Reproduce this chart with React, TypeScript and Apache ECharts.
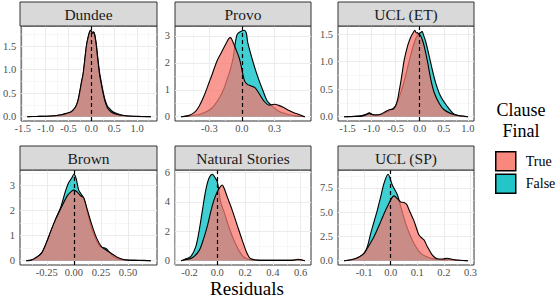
import React, { useEffect, useRef } from "react";
import * as echarts from "echarts";

// ---------- data ----------
const panelNames = ["Dundee", "Provo", "UCL (ET)", "Brown", "Natural Stories", "UCL (SP)"];
const groupNames = ["True", "False"];

const dundeeTrue = [[-1.4,0],[-1.2,0.005],[-1.0,0.01],[-0.8,0.02],[-0.65,0.04],[-0.55,0.07],[-0.45,0.1],[-0.4,0.14],[-0.35,0.2],[-0.3,0.32],[-0.26,0.5],[-0.22,0.72],[-0.18,0.92],[-0.14,1.25],[-0.11,1.5],[-0.07,1.7],[-0.03,1.83],[-0.01,1.84],[0.02,1.78],[0.05,1.79],[0.08,1.7],[0.11,1.5],[0.14,1.22],[0.18,0.9],[0.22,0.68],[0.26,0.48],[0.3,0.32],[0.35,0.19],[0.4,0.13],[0.45,0.09],[0.55,0.05],[0.7,0.025],[0.9,0.01],[1.1,0.005],[1.3,0]];
const dundeeFalse = [[-1.4,0],[-1.2,0.005],[-1.0,0.01],[-0.8,0.02],[-0.65,0.04],[-0.55,0.065],[-0.45,0.1],[-0.4,0.14],[-0.35,0.2],[-0.3,0.31],[-0.26,0.48],[-0.22,0.7],[-0.18,0.9],[-0.14,1.23],[-0.11,1.48],[-0.07,1.69],[-0.03,1.82],[-0.01,1.83],[0.02,1.8],[0.05,1.81],[0.08,1.72],[0.11,1.53],[0.14,1.26],[0.18,0.94],[0.22,0.72],[0.26,0.52],[0.3,0.36],[0.35,0.23],[0.4,0.17],[0.45,0.12],[0.5,0.09],[0.55,0.07],[0.65,0.035],[0.8,0.015],[1.0,0.005],[1.3,0]];

const provoTrue = [[-0.56,0],[-0.5,0.03],[-0.44,0.15],[-0.4,0.35],[-0.35,0.77],[-0.3,1.3],[-0.28,1.51],[-0.23,2.07],[-0.19,2.38],[-0.14,2.77],[-0.11,2.94],[-0.096,2.9],[-0.06,2.55],[-0.021,2.13],[0.024,1.33],[0.05,1.2],[0.08,1.15],[0.12,1.08],[0.16,0.85],[0.2,0.6],[0.25,0.43],[0.3,0.46],[0.34,0.42],[0.38,0.35],[0.43,0.24],[0.48,0.15],[0.52,0.09],[0.55,0.04],[0.58,0]];
const provoFalse = [[-0.56,0],[-0.48,0.03],[-0.42,0.06],[-0.38,0.1],[-0.3,0.25],[-0.26,0.39],[-0.2,0.75],[-0.17,1.0],[-0.14,1.35],[-0.11,1.7],[-0.08,2.2],[-0.066,2.62],[-0.045,3.05],[-0.02,3.15],[0.02,3.21],[0.04,3.12],[0.054,2.75],[0.1,2.07],[0.144,1.51],[0.19,1.01],[0.234,0.58],[0.28,0.39],[0.34,0.2],[0.43,0.08],[0.5,0.03],[0.58,0]];

const uclEtTrue = [[-1.57,0],[-1.35,0.005],[-1.2,0.01],[-1.1,0.04],[-1.05,0.06],[-1.0,0.04],[-0.9,0.03],[-0.8,0.05],[-0.7,0.1],[-0.62,0.13],[-0.55,0.14],[-0.5,0.2],[-0.46,0.31],[-0.42,0.5],[-0.39,0.65],[-0.35,0.88],[-0.32,1.04],[-0.25,1.29],[-0.19,1.44],[-0.14,1.52],[-0.1,1.57],[-0.07,1.52],[-0.05,1.53],[-0.02,1.5],[0.02,1.47],[0.06,1.38],[0.09,1.29],[0.16,1.01],[0.23,0.68],[0.3,0.44],[0.4,0.25],[0.5,0.13],[0.64,0.06],[0.8,0.02],[1.0,0]];
const uclEtFalse = [[-1.57,0],[-1.35,0.005],[-1.2,0.02],[-1.1,0.05],[-1.05,0.07],[-0.98,0.04],[-0.9,0.03],[-0.8,0.04],[-0.7,0.08],[-0.6,0.12],[-0.5,0.2],[-0.4,0.42],[-0.3,0.72],[-0.2,1.08],[-0.1,1.38],[-0.03,1.5],[0.02,1.53],[0.05,1.55],[0.08,1.48],[0.12,1.38],[0.19,1.13],[0.26,0.86],[0.33,0.62],[0.43,0.38],[0.57,0.19],[0.71,0.05],[0.85,0.01],[1.0,0]];

const brownTrue = [[-0.44,0],[-0.4,0.01],[-0.36,0.1],[-0.3,0.29],[-0.256,0.69],[-0.21,1.22],[-0.165,1.69],[-0.12,2.09],[-0.06,2.6],[-0.02,2.78],[0.0,2.82],[0.03,2.75],[0.06,2.6],[0.09,2.52],[0.12,2.1],[0.166,1.43],[0.21,0.9],[0.256,0.55],[0.3,0.42],[0.35,0.28],[0.4,0.14],[0.45,0.06],[0.5,0.02],[0.6,0.005],[0.71,0]];
const brownFalse = [[-0.44,0],[-0.4,0.03],[-0.36,0.08],[-0.3,0.3],[-0.256,0.7],[-0.21,1.2],[-0.165,1.7],[-0.12,2.15],[-0.08,2.75],[-0.05,3.1],[-0.02,3.3],[0.0,3.45],[0.02,3.3],[0.045,2.82],[0.09,2.5],[0.135,1.77],[0.18,1.09],[0.24,0.57],[0.27,0.53],[0.3,0.48],[0.35,0.22],[0.4,0.08],[0.5,0.03],[0.6,0.02],[0.71,0]];

const naturalTrue = [[-0.26,0],[-0.24,0.05],[-0.18,0.2],[-0.13,0.7],[-0.095,1.6],[-0.07,2.42],[-0.048,3.3],[-0.024,4.12],[0.0,4.69],[0.02,5.0],[0.035,5.14],[0.05,4.9],[0.071,4.35],[0.107,3.44],[0.143,2.42],[0.179,1.4],[0.214,0.5],[0.238,0.15],[0.29,0.04],[0.4,0.02],[0.5,0.02],[0.55,0.04],[0.58,0.1],[0.61,0.05],[0.63,0]];
const naturalFalse = [[-0.26,0],[-0.24,0.07],[-0.19,0.3],[-0.155,0.95],[-0.13,2.08],[-0.107,3.44],[-0.083,4.8],[-0.06,5.6],[-0.035,5.87],[-0.02,5.7],[0.0,5.36],[0.024,4.0],[0.048,3.33],[0.083,2.31],[0.119,1.4],[0.155,0.7],[0.19,0.25],[0.238,0.06],[0.3,0.03],[0.45,0.02],[0.55,0.03],[0.58,0.06],[0.63,0]];

const uclSpTrue = [[-0.175,0],[-0.15,0.1],[-0.125,0.3],[-0.1,0.75],[-0.0875,1.3],[-0.0625,2.5],[-0.0375,4.04],[-0.0125,5.58],[0.0125,6.68],[0.025,6.4],[0.0375,6.05],[0.05,6.0],[0.06,5.8],[0.069,5.24],[0.0875,4.1],[0.106,2.67],[0.118,2.3],[0.125,2.16],[0.1375,1.47],[0.156,0.6],[0.175,0.2],[0.195,0.18],[0.2125,0.25],[0.23,0.15],[0.26,0.04],[0.29,0]];
const uclSpFalse = [[-0.175,0],[-0.15,0.07],[-0.125,0.27],[-0.1,0.78],[-0.0875,1.47],[-0.075,2.85],[-0.0625,4.04],[-0.05,5.24],[-0.0375,6.6],[-0.025,8.0],[-0.01,8.9],[0.006,7.8],[0.025,6.8],[0.0375,5.58],[0.056,3.87],[0.075,2.5],[0.094,1.47],[0.1125,0.78],[0.1375,0.37],[0.1625,0.17],[0.2,0.1],[0.22,0.12],[0.25,0.04],[0.29,0]];

const xTicks = [
  [-1.5, -1.0, -0.5, 0.0, 0.5, 1.0],
  [-0.3, 0.0, 0.3],
  [-1.5, -1.0, -0.5, 0.0, 0.5, 1.0],
  [-0.25, 0.0, 0.25, 0.5],
  [-0.2, 0.0, 0.2, 0.4, 0.6],
  [-0.1, 0.0, 0.1, 0.2, 0.3],
];
const yTicks = [
  [0, 0.5, 1.0, 1.5],
  [0, 1, 2, 3],
  [0, 0.5, 1.0, 1.5],
  [0, 1, 2, 3],
  [0, 2, 4, 6],
  [0, 2.5, 5.0, 7.5],
];
const xDecimals = [1, 1, 1, 2, 1, 1];
const yDecimals = [1, 0, 1, 0, 0, 1];

const trueData = [dundeeTrue, provoTrue, uclEtTrue, brownTrue, naturalTrue, uclSpTrue];
const falseData = [dundeeFalse, provoFalse, uclEtFalse, brownFalse, naturalFalse, uclSpFalse];

// ---------- styling / layout ----------
const FONT = "'Liberation Serif', 'DejaVu Serif', serif";
const COL_TRUE = "#F8766D";
const COL_FALSE = "#00BFC4";
const ALPHA = 0.75;
const colLeft = [20, 175, 338];
const colWidth = [137, 136, 136];
const rowTop = [26, 170];
const plotH = 95;
const stripH = 24;

function minorTicks(ticks: number[], lo: number, hi: number) {
  const step = ticks[1] - ticks[0];
  const out: number[] = [];
  for (let k = -3; k < ticks.length + 3; k++) {
    const v = ticks[0] + (k + 0.5) * step;
    if (v > lo && v < hi) out.push(v);
  }
  return out;
}

function buildOption() {
  const grid: any[] = [];
  const xAxis: any[] = [];
  const yAxis: any[] = [];
  const series: any[] = [];
  const graphic: any[] = [];

  panelNames.forEach((name, i) => {
    const col = i % 3;
    const row = Math.floor(i / 3);
    const left = colLeft[col];
    const width = colWidth[col];
    const top = rowTop[row];
    const all = [...trueData[i], ...falseData[i]];
    const xs = all.map((p) => p[0]);
    const ys = all.map((p) => p[1]);
    const xlo = Math.min(...xs), xhi = Math.max(...xs);
    const xr = xhi - xlo;
    const xmin = xlo - 0.05 * xr, xmax = xhi + 0.05 * xr;
    const ymaxData = Math.max(...ys);
    const ymin = -0.05 * ymaxData, ymax = 1.05 * ymaxData;

    grid.push({ left, top, width, height: plotH, show: true, backgroundColor: "#fff", borderColor: "#333333", borderWidth: 1, z: 0 });
    xAxis.push({
      gridIndex: i, type: "value", min: xmin, max: xmax,
      axisLine: { show: false }, splitLine: { show: false },
      axisTick: { show: true, length: 3, lineStyle: { color: "#333333", width: 1 }, customValues: xTicks[i] },
      axisLabel: { customValues: xTicks[i], showMinLabel: true, showMaxLabel: true, hideOverlap: false,
        formatter: (v: number) => v.toFixed(xDecimals[i]), color: "#4D4D4D", fontSize: 10.5, lineHeight: 11, fontFamily: FONT, margin: 2 },
    });
    yAxis.push({
      gridIndex: i, type: "value", min: ymin, max: ymax,
      axisLine: { show: false }, splitLine: { show: false },
      axisTick: { show: true, length: 3, lineStyle: { color: "#333333", width: 1 }, customValues: yTicks[i] },
      axisLabel: { customValues: yTicks[i], showMinLabel: true, showMaxLabel: true, hideOverlap: false,
        formatter: (v: number) => v.toFixed(yDecimals[i]), color: "#4D4D4D", fontSize: 10.5, lineHeight: 11, fontFamily: FONT, margin: 5 },
    });

    const gridLines: any[] = [];
    minorTicks(xTicks[i], xmin, xmax).forEach((v) => gridLines.push({ xAxis: v, lineStyle: { color: "#F2F2F2", width: 0.6, type: "solid" } }));
    minorTicks(yTicks[i], ymin, ymax).forEach((v) => gridLines.push({ yAxis: v, lineStyle: { color: "#F2F2F2", width: 0.6, type: "solid" } }));
    xTicks[i].forEach((v) => gridLines.push({ xAxis: v, lineStyle: { color: "#EBEBEB", width: 1, type: "solid" } }));
    yTicks[i].forEach((v) => gridLines.push({ yAxis: v, lineStyle: { color: "#EBEBEB", width: 1, type: "solid" } }));

    series.push({
      type: "line", name: "grid" + i, xAxisIndex: i, yAxisIndex: i, data: [], silent: true, z: 1,
      markLine: { z: 1, silent: true, symbol: ["none", "none"], animation: false, label: { show: false }, emphasis: { disabled: true },
        lineStyle: { color: "#EBEBEB", type: "solid" }, data: gridLines },
    });

    const mk = (gname: string, data: number[][], color: string, z: number) => ({
      type: "line", name: gname, xAxisIndex: i, yAxisIndex: i, data,
      showSymbol: false, symbol: "none", smooth: 0.3, silent: true, z,
      lineStyle: { color: "#000", width: 1.1 },
      itemStyle: { color },
      areaStyle: { color, opacity: ALPHA },
      emphasis: { disabled: true },
    });
    series.push(mk("False", falseData[i], COL_FALSE, 3));
    series.push(mk("True", trueData[i], COL_TRUE, 4));

    series.push({
      type: "line", name: "zero" + i, xAxisIndex: i, yAxisIndex: i, data: [], silent: true, z: 10,
      markLine: { z: 10, silent: true, symbol: ["none", "none"], animation: false, label: { show: false }, emphasis: { disabled: true },
        lineStyle: { color: "#000", width: 1.2, type: [4, 3] },
        data: [{ xAxis: 0, lineStyle: { color: "#000", width: 1.2, type: [4, 3] } }] },
    });

    graphic.push({
      type: "rect", shape: { x: left, y: top - stripH, width, height: stripH },
      style: { fill: "#D9D9D9", stroke: "#333333", lineWidth: 1 }, z: 100,
    });
    graphic.push({
      type: "text", x: left + width / 2, y: top - stripH / 2 + 0.5, z: 101,
      style: { text: name, textAlign: "center", textVerticalAlign: "middle", font: `15.5px ${FONT}`, fill: "#1A1A1A" },
    });
  });

  graphic.push({ type: "text", x: 247, y: 288.5, style: { text: "Residuals", textAlign: "center", textVerticalAlign: "middle", font: `19px ${FONT}`, lineHeight: 19, fill: "#000" } });
  graphic.push({ type: "text", x: 521, y: 110, style: { text: "Clause", textAlign: "center", textVerticalAlign: "middle", font: `18px ${FONT}`, fill: "#000" } });
  graphic.push({ type: "text", x: 521, y: 131, style: { text: "Final", textAlign: "center", textVerticalAlign: "middle", font: `18px ${FONT}`, fill: "#000" } });

  return {
    animation: false,
    grid, xAxis, yAxis, series, graphic,
    legend: {
      orient: "vertical", left: 495, top: 151, itemWidth: 20, itemHeight: 19, itemGap: 2,
      icon: "rect", selectedMode: false, padding: 0,
      textStyle: { fontFamily: FONT, fontSize: 14, color: "#000", padding: [0, 0, 0, 5] },
      data: [
        { name: groupNames[0], icon: "rect", itemStyle: { color: "#F8877E", borderColor: "#000", borderWidth: 1.5 } },
        { name: groupNames[1], icon: "rect", itemStyle: { color: "#22C6C9", borderColor: "#000", borderWidth: 1.5 } },
      ],
    },
  };
}

export default function App() {
  const ref = useRef<HTMLDivElement>(null);
  useEffect(() => {
    if (!ref.current) return;
    const chart = echarts.init(ref.current, undefined, { renderer: "svg" });
    chart.setOption(buildOption() as any);
    return () => chart.dispose();
  }, []);
  return <div ref={ref} style={{ position: "fixed", left: 0, top: 0, width: 558, height: 298, background: "#fff" }} />;
}
